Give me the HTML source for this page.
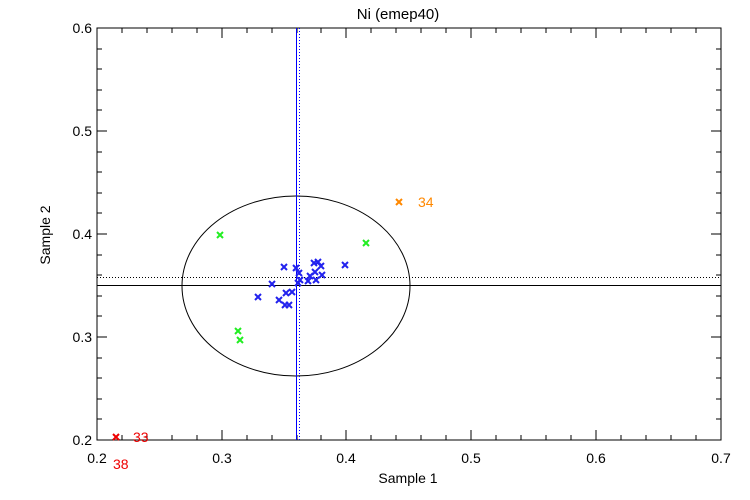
<!DOCTYPE html>
<html><head><style>body{margin:0;background:#fff}svg{display:block}text{font-family:"Liberation Sans",sans-serif}</style></head><body>
<svg width="750" height="500" xmlns="http://www.w3.org/2000/svg">
<defs><path id="m" d="M-3,-3L3,3M-3,3L3,-3" stroke-width="2"/></defs>
<rect width="750" height="500" fill="#fff"/>
<g stroke="#000" stroke-width="1" fill="none">
<rect x="97" y="28" width="624" height="412"/>
<path d="M97,440v-10M222,440v-10M346,440v-10M471,440v-10M596,440v-10M721,440v-10M97,28v10M222,28v10M346,28v10M471,28v10M596,28v10M721,28v10"/>
<path d="M122,440v-5M147,440v-5M172,440v-5M197,440v-5M247,440v-5M272,440v-5M297,440v-5M321,440v-5M371,440v-5M396,440v-5M421,440v-5M446,440v-5M496,440v-5M521,440v-5M546,440v-5M571,440v-5M621,440v-5M646,440v-5M671,440v-5M696,440v-5"/>
<path d="M122,28v5M147,28v5M172,28v5M197,28v5M247,28v5M272,28v5M297,28v5M321,28v5M371,28v5M396,28v5M421,28v5M446,28v5M496,28v5M521,28v5M546,28v5M571,28v5M621,28v5M646,28v5M671,28v5M696,28v5"/>
<path d="M97,440h10M97,337h10M97,234h10M97,131h10M97,28h10M721,440h-10M721,337h-10M721,234h-10M721,131h-10M721,28h-10"/>
<path d="M97,419h5M97,399h5M97,378h5M97,358h5M97,316h5M97,296h5M97,275h5M97,255h5M97,213h5M97,193h5M97,172h5M97,152h5M97,110h5M97,90h5M97,69h5M97,49h5"/>
<path d="M721,419h-5M721,399h-5M721,378h-5M721,358h-5M721,316h-5M721,296h-5M721,275h-5M721,255h-5M721,213h-5M721,193h-5M721,172h-5M721,152h-5M721,110h-5M721,90h-5M721,69h-5M721,49h-5"/>
<ellipse cx="296" cy="286" rx="114" ry="90"/>
<path d="M97,277.5h624" stroke-dasharray="1,2"/>
<path d="M97,285.5h624"/>
</g>
<path d="M296.5,28v412" stroke="#00f"/>
<path d="M299.5,28v412" stroke="#00f" stroke-dasharray="1,2"/>
<g font-size="14" fill="#000">
<text x="398" y="19" text-anchor="middle" font-size="15">Ni (emep40)</text>
<text x="97" y="463" text-anchor="middle">0.2</text><text x="222" y="463" text-anchor="middle">0.3</text><text x="346" y="463" text-anchor="middle">0.4</text><text x="471" y="463" text-anchor="middle">0.5</text><text x="596" y="463" text-anchor="middle">0.6</text><text x="721" y="463" text-anchor="middle">0.7</text>
<text x="92" y="445" text-anchor="end">0.2</text><text x="92" y="342" text-anchor="end">0.3</text><text x="92" y="239" text-anchor="end">0.4</text><text x="92" y="136" text-anchor="end">0.5</text><text x="92" y="33" text-anchor="end">0.6</text>
<text x="408" y="483" text-anchor="middle">Sample 1</text>
<text transform="translate(50,235) rotate(-90)" text-anchor="middle">Sample 2</text>
</g>
<g stroke="#2e2"><use href="#m" x="220" y="235"/><use href="#m" x="366" y="243"/><use href="#m" x="238" y="331"/><use href="#m" x="240" y="340"/></g>
<g stroke="#22e"><use href="#m" x="258" y="297"/><use href="#m" x="272" y="284"/><use href="#m" x="284" y="267"/><use href="#m" x="279" y="300"/><use href="#m" x="285" y="305"/><use href="#m" x="286" y="293"/><use href="#m" x="292" y="292"/><use href="#m" x="296" y="268"/><use href="#m" x="299" y="273"/><use href="#m" x="300" y="280"/><use href="#m" x="298" y="283"/><use href="#m" x="308" y="281"/><use href="#m" x="310" y="276"/><use href="#m" x="314" y="263"/><use href="#m" x="318" y="262"/><use href="#m" x="321" y="266"/><use href="#m" x="315" y="272"/><use href="#m" x="316" y="280"/><use href="#m" x="322" y="275"/><use href="#m" x="345" y="265"/><use href="#m" x="289" y="305"/></g>
<use href="#m" x="399" y="202" stroke="#f80"/>
<use href="#m" x="116" y="437" stroke="#e00"/>
<g font-size="14" fill="#e00"><text x="418" y="207" fill="#f80">34</text><text x="133" y="442">33</text><text x="113" y="469">38</text></g>
</svg>
</body></html>
